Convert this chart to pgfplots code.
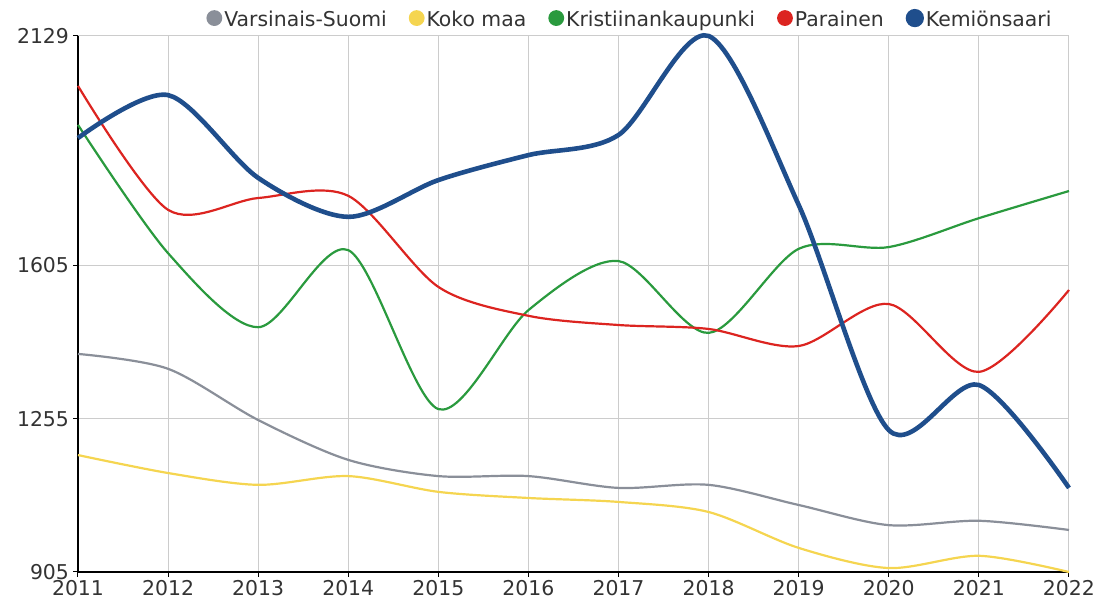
\documentclass[border=0pt]{standalone}
\usepackage{pgfplots}
\pgfplotsset{compat=1.18}
\usepackage{fontspec}
\setmainfont{DejaVu Sans}
\definecolor{cgrey}{HTML}{8A8F99}
\definecolor{cyellow}{HTML}{F5D550}
\definecolor{cgreen}{HTML}{2A9A3E}
\definecolor{cred}{HTML}{DC2420}
\definecolor{cblue}{HTML}{1F4E8C}
\definecolor{ctext}{HTML}{333333}
\begin{document}
\begin{tikzpicture}
\begin{axis}[
  scale only axis,
  width=495.5pt, height=268pt,
  xmin=2011, xmax=2022, ymin=905, ymax=2129,
  xtick={2011,...,2022},
  ytick={905,1255,1605,2129},
  xticklabel style={/pgf/number format/1000 sep={}},
  yticklabel style={/pgf/number format/1000 sep={}},
  /pgf/number format/assume math mode=true,
  axis x line=bottom, axis y line=left,
  axis line style={-, black, line width=0.6pt},
  tick style={black, line width=0.5pt},
  tick align=outside, major tick length=2.5pt,
  grid=major, grid style={gray!40, line width=0.5pt},
  font=\fontsize{10.2}{12}\selectfont,
  tick label style={font=\fontsize{10.2}{12}\selectfont, text=ctext},
  xticklabel style={yshift=2pt},
  yticklabel style={xshift=1.5pt},
  legend columns=-1,
  legend style={draw=none, fill=none, at={(0.558,1.0)}, anchor=south, yshift=1pt,
    font=\fontsize{10.2}{12}\selectfont, text=ctext,
    /tikz/every even column/.append style={column sep=9pt},
    /tikz/every odd column/.append style={column sep=-1pt},
    inner sep=0pt},
  legend image code/.code={\fill[#1] (0.1cm,0.04cm) circle (3.4pt);},
  every axis plot/.append style={smooth, tension=0.5, no markers},
  clip=false,
]
\addplot[cgrey, line width=1.1pt] coordinates {(2011,1403)(2012,1369)(2013,1252)(2014,1161)(2015,1124)(2016,1124)(2017,1097)(2018,1104)(2019,1058)(2020,1012)(2021,1022)(2022,1001)};
\addlegendentry{Varsinais-Suomi}
\addplot[cyellow, line width=1.1pt] coordinates {(2011,1172)(2012,1131)(2013,1104)(2014,1124)(2015,1088)(2016,1074)(2017,1065)(2018,1042)(2019,960)(2020,914)(2021,942)(2022,905)};
\addlegendentry{Koko maa}
\addplot[cgreen, line width=1.1pt] coordinates {(2011,1926)(2012,1633)(2013,1464)(2014,1640)(2015,1277)(2016,1503)(2017,1615)(2018,1451)(2019,1643)(2020,1647)(2021,1713)(2022,1775)};
\addlegendentry{Kristiinankaupunki}
\addplot[cred, line width=1.1pt] coordinates {(2011,2015)(2012,1732)(2013,1759)(2014,1764)(2015,1556)(2016,1490)(2017,1469)(2018,1460)(2019,1421)(2020,1517)(2021,1362)(2022,1549)};
\addlegendentry{Parainen}
\addplot[cblue, line width=2.3pt] coordinates {(2011,1896)(2012,1994)(2013,1805)(2014,1716)(2015,1800)(2016,1857)(2017,1903)(2018,2129)(2019,1743)(2020,1229)(2021,1332)(2022,1097)};
\addlegendentry{Kemiönsaari}
\end{axis}
\pgfresetboundingbox
\path ([shift={(-39pt,-16.5pt)}]current axis.south west) rectangle ([shift={(15pt,18pt)}]current axis.north east);
\end{tikzpicture}
\end{document}
